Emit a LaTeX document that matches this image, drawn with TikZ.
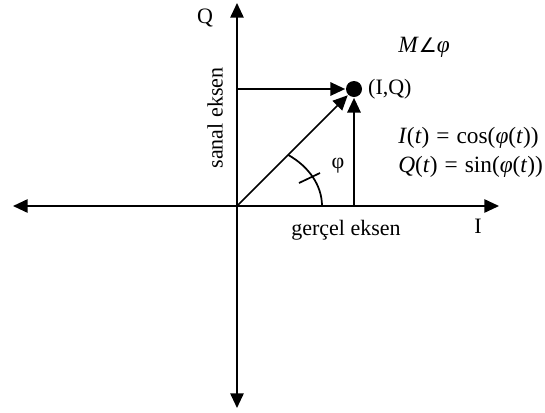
\documentclass[tikz,border=0pt]{standalone}
\usepackage{fontspec}
\setmainfont{Liberation Serif}
\newfontfamily\symfont{DejaVu Sans}
\usetikzlibrary{arrows.meta}

\begin{document}
\begin{tikzpicture}[x=0.75pt, y=0.75pt, line width=1.3pt,
  font=\fontsize{16.5}{19}\selectfont,
  tip/.style={-{Triangle[length=11pt,width=10pt]}},
  dot/.style={circle, fill=black, minimum size=12pt, inner sep=0},
  eq/.style={anchor=west, font=\fontsize{17.5}{20}\selectfont}]

\def\rx{85}
\def\ry{64}
\def\eqsp{\hspace{0.3em}=\hspace{0.3em}}

\useasboundingbox (-237,-206) rectangle (308,206);

% axes
\coordinate (o)  at (0,0);
\coordinate (xl) at (-224,0);
\coordinate (xr) at (262,0);
\coordinate (yt) at (0,203);
\coordinate (yb) at (0,-202);
\foreach \e in {xl,xr,yt,yb}
  \draw[tip] (o) -- (\e);

% phasor
\node[dot] (iq) at (117,117) {};
\draw[tip] (o) -- (iq);
\draw[tip] (o |- iq) -- (iq);
\draw[tip] (iq |- o) -- (iq);

% angle
\draw (\rx,0) arc[start angle=0, end angle=53, x radius=\rx, y radius=\ry];
\draw (62,23) -- (83,33);

\node (qname)  at (-32,188) {Q};
\node (iname)  at (241,-20) {I};
\node[rotate=90] (sanal) at (-22,88) {sanal eksen};
\node (gercel) at (109,-24) {gerçel eksen};
\node (phi)    at (101,40) {φ};
\node[eq, anchor=center] (polar) at (187,159)
  {\textit{M}{\symfont\fontsize{15}{15}\selectfont ∠}\textit{φ}};
\node[anchor=west] (iqlab) at (iq.east) {(I,Q)};
\node[eq] (ieq) at (156,68)
  {\textit{I}(\textit{t})\eqsp cos(\textit{φ}(\textit{t}))};
\node[eq] (qeq) at (156,39)
  {\textit{Q}(\textit{t})\eqsp sin(\textit{φ}(\textit{t}))};

\end{tikzpicture}
\end{document}
